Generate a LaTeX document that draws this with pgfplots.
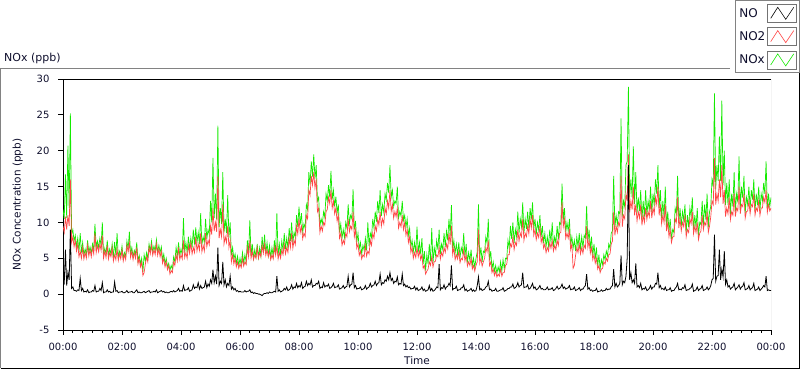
\documentclass[border=0pt]{standalone}
\usepackage{fontspec}
\setmainfont{DejaVu Sans}
\usepackage{pgfplots}
\pgfplotsset{compat=1.18}
\usepackage{pgfplotstable}
\definecolor{txt}{RGB}{15,15,45}
\definecolor{cno2}{RGB}{255,70,70}
\definecolor{cnox}{RGB}{20,235,0}
\definecolor{framec}{RGB}{130,130,130}

\pgfplotstableread{
t no no2 nox
0 1.8 9.5 11.8
2.5 1.5 8.6 10.5
5 6.2 10.8 16.7
7.5 1.2 9.0 10.6
10 3.0 11.0 20.7
12.5 2.0 9.5 12.0
15 9.0 16.0 25.2
17.5 0.8 7.2 8.3
20 1.0 8.0 9.0
22.5 0.5 6.6 7.4
25 0.5 7.5 8.2
27.5 0.4 6.0 6.6
30 0.6 7.0 7.8
32.5 0.5 5.2 5.9
35 2.2 6.0 8.5
37.5 0.5 5.0 5.8
40 0.8 6.5 7.2
42.5 0.3 4.9 5.4
45 0.4 5.8 6.3
47.5 0.3 5.0 5.5
50 0.6 6.8 7.5
52.5 0.2 5.3 5.8
55 0.3 6.2 6.6
57.5 0.3 5.2 5.7
60 0.5 6.5 7.0
62.5 0.4 5.6 6.2
65 1.2 8.5 9.8
67.5 0.3 5.8 6.5
70 0.4 6.8 7.4
72.5 0.4 5.9 6.5
75 0.8 7.0 7.8
77.5 0.5 6.1 6.8
80 1.6 8.2 10.0
82.5 0.2 5.0 5.5
85 0.3 6.0 6.4
87.5 0.3 5.1 5.6
90 0.6 6.8 7.5
92.5 0.3 4.9 5.4
95 0.4 5.8 6.3
97.5 0.2 5.2 5.6
100 0.3 6.5 7.0
102.5 0.3 4.6 5.1
105 1.7 5.5 7.3
107.5 0.4 4.8 5.4
110 0.5 6.3 8.5
112.5 0.2 4.7 5.1
115 0.3 5.6 6.0
117.5 0.3 4.9 5.4
120 0.4 6.2 6.7
122.5 0.2 4.6 5.0
125 0.2 5.5 5.8
127.5 0.3 4.8 5.3
130 0.5 6.8 7.4
132.5 0.2 5.9 6.3
135 0.3 7.2 8.7
137.5 0.3 5.1 5.6
140 0.4 6.0 6.5
142.5 0.2 4.8 5.2
145 0.2 5.8 6.1
147.5 0.4 5.0 5.6
150 0.6 6.5 7.2
152.5 0.2 4.2 4.6
155 0.3 5.0 5.4
157.5 0.2 3.8 4.2
160 0.2 4.5 5.0
162.5 0.3 2.6 3.1
165 0.4 3.0 5.5
167.5 0.2 4.2 4.6
170 0.3 5.2 5.8
172.5 0.4 4.5 5.0
175 0.5 6.5 7.0
177.5 0.2 5.6 6.0
180 0.3 6.8 7.4
182.5 0.3 5.4 5.9
185 0.4 6.2 6.7
187.5 0.3 5.5 6.0
190 0.6 7.0 7.6
192.5 0.2 5.4 5.8
195 0.3 6.3 6.8
197.5 0.4 5.2 5.8
200 0.5 6.0 6.6
202.5 0.3 4.3 4.8
205 0.4 5.0 5.6
207.5 0.2 3.8 4.2
210 0.3 4.5 5.0
212.5 0.2 3.4 3.8
215 0.2 4.0 4.3
217.5 0.3 2.8 3.3
220 0.4 3.3 4.0
222.5 0.3 3.0 3.5
225 0.5 4.5 5.2
227.5 0.3 4.0 4.5
230 0.4 5.5 6.5
232.5 0.5 4.6 5.3
235 0.8 6.5 7.2
237.5 0.4 4.8 5.4
240 0.5 5.5 6.3
242.5 0.4 4.9 5.5
245 1.2 7.5 10.6
247.5 0.5 5.1 5.8
250 0.6 5.8 7.2
252.5 0.6 5.0 5.8
255 0.9 6.8 8.0
257.5 0.4 5.7 6.3
260 0.5 7.2 7.8
262.5 0.6 5.6 6.4
265 1.3 6.5 9.0
267.5 0.8 5.8 6.9
270 1.0 8.0 9.3
272.5 0.9 6.0 7.2
275 1.6 7.0 8.6
277.5 0.7 6.1 7.0
280 1.2 8.5 11.3
282.5 0.8 5.9 6.9
285 0.9 6.8 8.0
287.5 1.0 6.0 7.2
290 1.8 8.5 10.5
292.5 0.9 6.6 7.7
295 1.4 7.5 9.0
297.5 1.1 6.9 8.3
300 2.0 9.5 13.0
302.5 1.5 8.3 10.0
305 3.4 12.0 19.0
307.5 1.6 8.8 10.6
310 2.5 10.0 14.0
312.5 1.4 8.7 10.4
315 6.5 16.5 23.5
317.5 1.2 7.8 9.3
320 1.8 9.0 12.0
322.5 1.5 8.0 9.8
325 4.5 12.5 17.0
327.5 1.3 7.0 8.6
330 2.0 8.0 10.5
332.5 1.0 7.2 8.5
335 1.5 9.5 13.8
337.5 1.2 6.5 7.9
340 2.5 7.5 10.0
342.5 0.7 4.5 5.4
345 1.0 5.5 6.5
347.5 0.6 4.2 4.9
350 0.8 5.0 5.6
352.5 0.4 3.8 4.3
355 0.5 4.5 5.3
357.5 0.3 3.6 4.0
360 0.4 4.2 5.0
362.5 0.3 3.7 4.1
365 0.3 5.0 5.8
367.5 0.3 3.9 4.3
370 0.5 4.5 5.5
372.5 0.3 4.1 4.5
375 0.4 6.5 7.5
377.5 0.4 5.2 5.7
380 0.6 7.5 10.3
382.5 0.2 5.0 5.3
385 0.3 6.0 7.0
387.5 0.1 4.8 5.0
390 0.2 5.5 6.2
392.5 0.1 5.0 5.2
395 0.1 6.5 7.0
397.5 0.0 5.0 5.1
400 0.0 5.8 6.5
402.5 -0.1 5.2 5.3
405 -0.2 6.8 8.0
407.5 0.0 5.7 5.9
410 0.1 7.0 8.3
412.5 0.1 5.4 5.6
415 0.2 6.2 7.2
417.5 0.1 5.2 5.4
420 0.3 6.0 6.8
422.5 0.2 4.8 5.1
425 0.2 5.5 6.5
427.5 0.3 4.9 5.3
430 0.4 6.5 7.5
432.5 0.3 5.4 5.8
435 2.5 6.8 11.3
437.5 0.4 4.9 5.4
440 0.6 5.8 7.0
442.5 0.3 5.0 5.4
445 0.4 6.2 7.4
447.5 0.5 5.5 6.1
450 0.8 7.0 8.5
452.5 0.6 5.6 6.3
455 1.0 6.5 7.8
457.5 0.5 5.8 6.4
460 0.6 7.8 9.2
462.5 0.8 6.5 7.4
465 1.3 8.5 10.0
467.5 0.7 6.4 7.2
470 1.0 7.5 8.6
472.5 0.9 6.9 7.9
475 1.5 9.5 11.0
477.5 0.9 8.4 9.4
480 1.2 10.5 12.2
482.5 1.0 8.6 9.7
485 1.6 9.5 11.3
487.5 0.8 7.7 8.6
490 1.0 8.5 9.8
492.5 1.1 8.0 9.2
495 1.8 11.0 12.5
497.5 1.2 10.5 11.8
500 1.5 14.5 17.0
502.5 1.3 13.8 15.3
505 2.0 16.5 18.5
507.5 1.0 15.2 16.4
510 1.2 17.0 19.5
512.5 1.2 14.8 16.1
515 1.5 16.0 18.0
517.5 1.4 11.5 13.0
520 1.8 12.0 13.5
522.5 0.8 8.6 9.5
525 1.0 9.5 10.5
527.5 0.9 8.8 9.8
530 1.6 10.0 11.5
532.5 1.0 9.6 10.7
535 1.2 11.5 14.0
537.5 1.1 11.8 13.0
540 1.4 13.5 15.2
542.5 0.8 12.6 13.5
545 0.9 14.5 17.2
547.5 1.1 12.0 13.2
550 1.5 13.0 14.5
552.5 0.9 11.2 12.2
555 1.0 12.0 13.6
557.5 1.0 10.2 11.3
560 1.3 11.0 12.5
562.5 0.7 7.8 8.6
565 0.8 8.5 9.8
567.5 0.9 6.8 7.8
570 1.2 7.5 9.0
572.5 0.8 7.0 7.9
575 1.0 8.5 10.0
577.5 1.1 8.0 9.2
580 2.5 10.5 12.5
582.5 1.0 8.7 9.8
585 1.3 9.5 11.0
587.5 1.4 9.0 10.5
590 3.0 11.5 14.6
592.5 0.9 8.0 9.0
595 1.2 9.0 10.2
597.5 0.7 6.4 7.2
600 0.8 7.0 8.5
602.5 0.8 5.4 6.3
605 1.0 6.0 7.2
607.5 0.6 4.9 5.6
610 0.7 5.5 6.8
612.5 0.8 5.2 6.1
615 1.2 6.8 7.8
617.5 0.7 5.3 6.1
620 0.9 6.0 10.0
622.5 1.0 5.6 6.7
625 1.5 7.5 8.5
627.5 1.0 6.8 7.9
630 1.2 8.5 10.5
632.5 1.3 7.8 9.2
635 1.8 9.5 11.5
637.5 1.2 8.8 10.1
640 1.5 10.5 13.0
642.5 1.6 9.6 11.3
645 2.8 11.5 14.5
647.5 1.3 9.5 10.9
650 1.6 10.5 12.5
652.5 1.5 9.8 11.4
655 2.0 12.0 14.0
657.5 1.8 11.2 13.1
660 2.5 13.0 15.5
662.5 2.0 12.0 14.1
665 3.0 14.5 18.0
667.5 1.9 11.5 13.5
670 2.2 12.5 14.5
672.5 1.5 10.6 12.2
675 1.8 11.5 13.0
677.5 1.7 10.8 12.6
680 2.4 12.0 15.0
682.5 1.3 9.2 10.6
685 1.5 10.0 11.5
687.5 1.4 9.4 10.9
690 2.8 11.0 13.0
692.5 1.2 9.0 10.3
695 1.4 10.0 11.0
697.5 1.0 8.2 9.3
700 1.2 9.0 10.5
702.5 0.9 7.2 8.2
705 1.0 8.0 9.2
707.5 0.7 5.8 6.6
710 0.8 6.5 7.5
712.5 0.8 5.0 5.9
715 1.1 5.8 7.2
717.5 0.6 5.1 5.8
720 0.9 6.5 9.4
722.5 0.5 5.2 5.8
725 0.6 6.0 7.2
727.5 0.7 4.8 5.6
730 1.0 5.5 7.8
732.5 0.5 3.6 4.2
735 0.7 4.0 6.0
737.5 0.4 2.8 3.3
740 0.5 3.2 5.5
742.5 0.6 3.5 4.2
745 1.2 4.5 7.0
747.5 0.5 4.0 4.6
750 0.8 5.2 9.2
752.5 0.4 3.8 4.3
755 0.5 4.5 6.5
757.5 0.7 4.6 5.4
760 1.0 5.5 7.5
762.5 0.9 5.2 6.2
765 4.2 6.5 9.0
767.5 0.6 4.9 5.6
770 0.9 5.8 7.0
772.5 0.8 5.3 6.2
775 1.3 6.5 8.5
777.5 0.7 5.8 6.6
780 1.0 7.0 8.8
782.5 1.1 6.3 7.5
785 1.5 8.5 10.5
787.5 1.2 6.9 8.2
790 4.0 9.5 12.4
792.5 0.6 5.5 6.2
795 0.8 6.5 7.5
797.5 0.8 4.8 5.7
800 1.1 5.5 7.0
802.5 0.5 4.9 5.5
805 0.6 6.0 7.2
807.5 0.6 4.4 5.1
810 0.9 5.0 6.5
812.5 0.9 4.8 5.8
815 1.3 6.2 8.5
817.5 0.5 4.6 5.2
820 0.7 5.5 7.0
822.5 0.4 3.9 4.4
825 0.5 4.5 5.8
827.5 0.6 4.0 4.7
830 0.8 5.0 6.2
832.5 0.4 3.5 4.0
835 0.6 4.0 5.0
837.5 0.4 3.2 3.7
840 0.5 4.0 5.0
842.5 1.2 4.5 5.9
845 2.4 9.0 12.5
847.5 0.6 4.3 5.0
850 0.8 5.0 6.5
852.5 0.5 3.9 4.5
855 0.6 4.5 6.0
857.5 0.7 5.0 5.8
860 1.0 6.5 8.0
862.5 1.1 5.9 7.1
865 1.8 7.5 10.5
867.5 0.6 4.0 4.7
870 0.7 4.5 6.0
872.5 0.4 3.0 3.5
875 0.5 3.5 4.5
877.5 0.5 2.6 3.2
880 0.8 3.2 4.0
882.5 0.4 2.4 2.9
885 0.4 2.8 3.8
887.5 0.5 2.5 3.1
890 0.6 3.5 4.5
892.5 0.6 2.5 3.2
895 0.9 3.0 4.8
897.5 0.4 3.0 3.5
900 0.5 4.0 5.0
902.5 0.6 4.2 4.9
905 0.8 5.5 7.5
907.5 0.8 5.5 6.4
910 1.0 7.0 9.5
912.5 1.0 6.6 7.7
915 1.4 8.0 10.0
917.5 0.8 6.2 7.1
920 0.9 7.2 9.0
922.5 1.1 6.8 8.0
925 1.6 9.0 11.5
927.5 1.0 7.4 8.5
930 1.2 8.5 10.5
932.5 1.3 8.0 9.4
935 3.0 10.5 12.8
937.5 0.9 7.5 8.5
940 1.0 8.5 10.5
942.5 1.0 8.0 9.1
945 1.3 9.5 11.5
947.5 0.7 8.4 9.2
950 0.8 10.5 12.0
952.5 1.1 9.2 10.4
955 1.5 11.0 12.8
957.5 0.8 8.2 9.1
960 1.0 9.0 10.5
962.5 0.6 7.6 8.3
965 0.7 8.5 10.0
967.5 0.9 7.9 8.9
970 1.2 9.5 11.0
972.5 0.7 7.2 8.0
975 0.8 8.0 9.5
977.5 0.6 6.4 7.1
980 0.6 7.0 8.5
982.5 0.7 5.8 6.6
985 1.0 6.5 8.0
987.5 0.6 6.0 6.7
990 0.7 7.2 9.0
992.5 0.7 6.4 7.2
995 0.9 7.5 10.0
997.5 0.5 6.0 6.6
1000 0.6 6.8 8.0
1002.5 0.8 6.2 7.1
1005 1.1 7.5 9.5
1007.5 0.7 6.8 7.6
1010 0.8 8.5 10.0
1012.5 1.0 8.6 9.7
1015 1.4 12.8 15.4
1017.5 0.8 9.4 10.3
1020 1.0 10.5 12.0
1022.5 0.7 7.8 8.6
1025 0.8 8.5 10.0
1027.5 0.9 7.8 8.8
1030 1.2 9.0 10.5
1032.5 0.6 6.2 6.9
1035 0.7 7.0 8.0
1037.5 0.7 3.6 6.4
1040 1.0 4.0 7.5
1042.5 0.5 5.4 6.0
1045 0.6 6.5 8.0
1047.5 0.7 5.8 6.6
1050 0.9 7.0 8.5
1052.5 0.5 5.6 6.2
1055 0.7 6.5 8.0
1057.5 0.7 5.7 6.5
1060 1.0 6.8 8.2
1062.5 1.2 6.4 7.8
1065 2.8 9.5 12.3
1067.5 0.7 6.5 7.3
1070 0.9 7.5 9.0
1072.5 0.5 5.7 6.3
1075 0.6 6.5 8.0
1077.5 0.4 4.8 5.3
1080 0.5 5.5 7.0
1082.5 0.5 4.3 4.9
1085 0.8 5.0 6.5
1087.5 0.3 3.5 3.9
1090 0.4 4.0 5.5
1092.5 0.4 3.0 3.5
1095 0.6 3.5 4.8
1097.5 0.4 3.6 4.1
1100 0.5 4.5 5.5
1102.5 0.5 4.2 4.8
1105 0.8 5.0 6.0
1107.5 0.6 4.6 5.3
1110 0.7 5.5 7.0
1112.5 0.7 5.6 6.4
1115 1.0 7.0 8.5
1117.5 1.2 7.4 8.8
1120 3.5 11.5 16.5
1122.5 1.0 8.2 9.3
1125 1.5 9.5 11.0
1127.5 1.0 8.6 9.7
1130 1.2 10.0 11.5
1132.5 1.5 9.5 11.2
1135 5.4 16.5 24.5
1137.5 1.3 9.4 10.8
1140 1.8 11.0 13.0
1142.5 1.6 10.5 12.2
1145 2.5 14.0 18.0
1147.5 5.0 13.0 18.5
1150 18.0 19.5 28.9
1152.5 2.0 11.4 13.5
1155 3.0 13.0 16.0
1157.5 1.6 11.8 13.5
1160 2.0 15.0 20.6
1162.5 1.5 11.0 12.6
1165 4.3 12.5 17.0
1167.5 1.0 10.2 11.3
1170 1.2 11.5 13.5
1172.5 0.9 10.6 11.6
1175 1.5 12.5 14.5
1177.5 0.6 9.6 10.3
1180 0.8 11.0 13.0
1182.5 0.7 10.0 10.8
1185 1.0 12.0 14.5
1187.5 0.5 10.4 11.0
1190 0.6 11.5 13.0
1192.5 0.8 10.8 11.7
1195 1.2 13.0 15.0
1197.5 0.7 10.6 11.4
1200 1.0 12.0 14.0
1202.5 1.0 11.2 12.3
1205 1.5 13.5 16.0
1207.5 1.4 12.5 14.0
1210 3.0 15.0 18.0
1212.5 0.9 11.0 12.0
1215 1.2 12.5 14.5
1217.5 0.7 9.8 10.6
1220 0.8 11.0 13.0
1222.5 0.6 10.0 10.7
1225 1.0 12.5 15.0
1227.5 0.5 8.8 9.4
1230 0.6 10.0 11.5
1232.5 0.6 8.0 8.7
1235 0.9 9.0 10.5
1237.5 0.4 7.2 7.7
1240 0.5 8.0 9.0
1242.5 0.5 8.0 8.6
1245 0.8 10.5 12.0
1247.5 1.0 10.0 11.2
1250 1.5 13.5 16.5
1252.5 0.6 9.2 9.9
1255 0.7 10.5 12.0
1257.5 0.6 8.8 9.5
1260 0.9 10.0 11.5
1262.5 0.8 9.4 10.3
1265 1.3 11.0 12.5
1267.5 0.5 8.0 8.6
1270 0.6 9.0 11.0
1272.5 0.6 8.6 9.3
1275 0.8 10.5 12.0
1277.5 0.9 9.8 10.8
1280 1.4 11.5 13.5
1282.5 0.4 8.4 8.9
1285 0.5 9.5 11.0
1287.5 0.6 8.6 9.3
1290 1.0 10.0 12.0
1292.5 0.5 7.6 8.2
1295 0.7 8.5 10.0
1297.5 0.8 8.8 9.7
1300 1.2 11.0 13.0
1302.5 0.5 9.0 9.6
1305 0.6 10.0 12.5
1307.5 0.7 9.6 10.4
1310 1.0 11.5 14.0
1312.5 0.6 8.6 9.3
1315 0.8 9.5 11.5
1317.5 1.2 10.8 12.2
1320 2.0 13.0 16.0
1322.5 2.2 12.5 15.0
1325 8.3 19.0 28.0
1327.5 1.8 12.5 14.6
1330 2.5 14.0 18.0
1332.5 2.6 13.0 15.8
1335 6.2 16.0 22.0
1337.5 2.0 13.5 15.8
1340 3.5 18.0 27.0
1342.5 2.4 12.6 15.2
1345 6.0 14.5 20.0
1347.5 1.4 10.8 12.4
1350 2.0 12.0 15.5
1352.5 1.0 11.2 12.4
1355 1.2 13.5 16.0
1357.5 0.7 10.4 11.2
1360 0.9 11.5 14.0
1362.5 1.0 11.0 12.2
1365 1.5 14.0 17.0
1367.5 0.6 10.8 11.5
1370 0.8 12.0 14.0
1372.5 1.0 11.6 12.8
1375 1.3 15.0 19.2
1377.5 0.7 11.2 12.0
1380 1.0 12.5 15.0
1382.5 1.1 12.2 13.4
1385 1.6 14.0 16.5
1387.5 0.6 10.6 11.3
1390 0.7 11.5 13.5
1392.5 0.8 11.6 12.5
1395 1.2 13.0 15.0
1397.5 0.6 11.2 11.9
1400 0.8 12.5 14.5
1402.5 0.9 12.2 13.2
1405 1.5 14.0 16.0
1407.5 0.5 11.0 11.6
1410 0.6 12.0 14.0
1412.5 0.7 11.6 12.4
1415 1.0 13.0 15.0
1417.5 0.5 11.0 11.6
1420 0.7 12.0 14.0
1422.5 0.9 12.0 13.0
1425 1.2 13.5 15.5
1427.5 1.0 12.8 14.0
1430 2.5 14.5 18.5
1432.5 0.5 11.4 12.0
1435 0.6 12.5 14.0
1437.5 0.5 11.6 12.2
1440 0.5 12.0 13.5
}\data

\begin{document}
\begin{tikzpicture}
\useasboundingbox (0pt,0pt) rectangle (800pt,369pt);
% outer frame
\draw[framec, line width=1pt] (0.5pt,0.5pt) -- (0.5pt,300pt) -- (730pt,300pt);
\draw[black, line width=1pt] (0.5pt,0.5pt) -- (799.5pt,0.5pt) -- (799.5pt,297pt);
\node[anchor=west, text=txt, font=\fontsize{11}{13}\selectfont, inner sep=0pt] at (4pt,311pt) {NOx (ppb)};
\begin{axis}[
  at={(63pt,39pt)}, anchor=south west,
  width=708pt, height=251pt, scale only axis,
  xmin=0, xmax=1440, ymin=-5, ymax=30,
  axis x line*=bottom, axis y line*=left,
  axis line style={black, line width=0.8pt, -},
  xtick={0,120,...,1440},
  xticklabels={00:00,02:00,04:00,06:00,08:00,10:00,12:00,14:00,16:00,18:00,20:00,22:00,00:00},
  minor x tick num=5,
  ytick={-5,0,...,30},
  tick align=outside,
  major tick length=5pt, minor tick length=3pt,
  tick style={black, line width=0.8pt},
  ticklabel style={font=\fontsize{10}{12}\selectfont, text=txt},
  xticklabel style={yshift=-5pt},
  yticklabel style={xshift=-5pt},
  /pgf/number format/assume math mode=true,
  xlabel={Time}, ylabel={NOx Concentration (ppb)},
  label style={font=\fontsize{10.5}{12}\selectfont, text=txt},
  xlabel style={at={(axis description cs:0.5,-0.122)}, anchor=center},
  ylabel style={at={(axis description cs:-0.064,0.5)}, anchor=center},
  clip=true,
  reverse legend,
  legend plot pos=right,
  legend cell align=left,
  legend style={at={(axis description cs:1.0403,1.3147)}, anchor=north east,
    draw=framec, line width=0.8pt, fill=white, text=txt,
    font=\fontsize{12}{14}\selectfont,
    inner xsep=2pt, inner ysep=3.5pt, row sep=4.5pt,
    /tikz/every even column/.append style={column sep=8pt}},
  legend image code/.code={
    \draw[draw=black!55, line width=0.8pt, fill=white, solid] (0pt,-9pt) rectangle (29pt,9pt);
    \draw[#1, line width=0.6pt] (3pt,-5pt) -- (10pt,6pt) -- (18pt,-6pt) -- (26pt,6pt);
  },
]
\addplot[cnox, line width=0.7pt] table[x=t, y=nox] {\data};
\addplot[cno2, line width=0.7pt] table[x=t, y=no2] {\data};
\addplot[black, line width=0.8pt] table[x=t, y=no] {\data};
\legend{NOx,NO2,NO}
\draw[black, line width=0.8pt] (rel axis cs:0,1) -- (rel axis cs:1,1);
\draw[black!35, line width=0.8pt] (rel axis cs:1,0) -- (rel axis cs:1,1);
\end{axis}
\end{tikzpicture}
\end{document}
